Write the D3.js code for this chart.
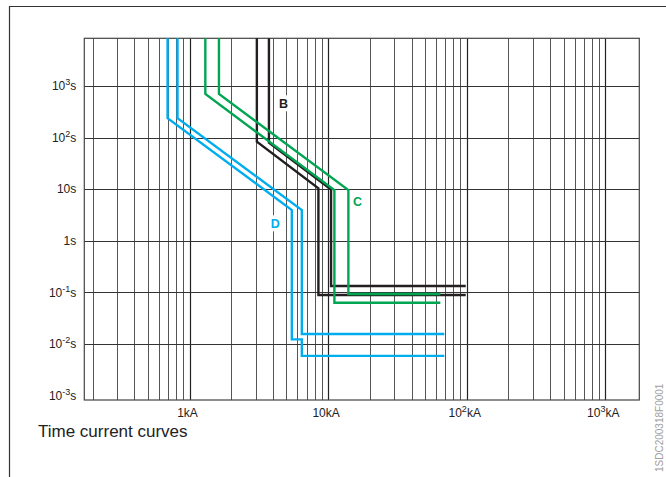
<!DOCTYPE html>
<html>
<head>
<meta charset="utf-8">
<script src="https://cdn.jsdelivr.net/npm/d3@7"></script>
<style>
  body { margin: 0; background: #fff; }
  svg { display: block; font-family: "Liberation Sans", Arial, Helvetica, sans-serif; }
</style>
</head>
<body>
<div id="chart"></div>
<script>
// curves as [current kA, time s]
const curveD1 = [[0.694, 1e4], [0.694, 237], [5.47, 3.95], [5.47, 0.0123], [6.46, 0.0123], [6.46, 0.0059], [68.9, 0.0059]];
const curveD2 = [[0.819, 1e4], [0.819, 237], [6.46, 3.95], [6.46, 0.0156], [68.9, 0.0156]];
const curveC1 = [[1.30, 1e4], [1.30, 700], [11.1, 9.65], [11.1, 0.063], [64.5, 0.063]];
const curveC2 = [[1.63, 1e4], [1.63, 700], [14.0, 9.65], [14.0, 0.093], [64.5, 0.093]];
const curveB1 = [[3.06, 1e4], [3.06, 83.4], [8.51, 10.4], [8.51, 0.089], [98.4, 0.089]];
const curveB2 = [[3.74, 1e4], [3.74, 80], [10.5, 9.9], [10.5, 0.133], [98.4, 0.133]];

const curveLabels = [
  {text: "B", I: 4.76, t: 462, color: "#231f20"},
  {text: "C", I: 16.3, t: 5.7, color: "#00a651"},
  {text: "D", I: 4.15, t: 2.18, color: "#00aeef"}
];

const yTicks = [1e3, 1e2, 10, 1, 1e-1, 1e-2, 1e-3];
const yTickBase = ["10", "10", "10s", "1s", "10", "10", "10"];
const yTickExp = ["3", "2", "", "", "-1", "-2", "-3"];
const xTicks = [1, 10, 100, 1000];
const xTickBase = ["1kA", "10kA", "10", "10"];
const xTickExp = ["", "", "2", "3"];

const W = 666, H = 477;
const plotL = 84.3, plotR = 639.3, plotT = 38.3, plotB = 400;

const svg = d3.select("#chart").append("svg")
  .attr("width", W)
  .attr("height", H);

// outer frame (left and top edges)
svg.append("path")
  .attr("d", `M9.5,${H} V6.5 H${W}`)
  .attr("fill", "none")
  .attr("stroke", "#333")
  .attr("stroke-width", 1.2);

const x = d3.scaleLog().domain([0.174, 1760]).range([plotL, plotR]);
const y = d3.scaleLog().domain([Math.pow(10, -3.085), Math.pow(10, 3.924)]).range([plotB, plotT]);

svg.append("defs").append("clipPath").attr("id", "plot-clip")
  .append("rect")
  .attr("x", plotL).attr("y", plotT)
  .attr("width", plotR - plotL).attr("height", plotB - plotT);

// vertical grid: 1..9 per decade
const vLines = [];
for (let e = -1; e <= 3; e++) {
  for (let m = 1; m <= 9; m++) {
    const v = m * Math.pow(10, e);
    if (v > x.domain()[0] && v < x.domain()[1]) vLines.push({v, major: m === 1});
  }
}
const grid = svg.append("g").attr("class", "grid");
grid.selectAll("line.v")
  .data(vLines)
  .join("line")
    .attr("class", "v")
    .attr("x1", d => Math.round(x(d.v)) + 0.5)
    .attr("x2", d => Math.round(x(d.v)) + 0.5)
    .attr("y1", plotT)
    .attr("y2", plotB)
    .attr("stroke", d => d.major ? "#222" : "#555")
    .attr("stroke-width", d => d.major ? 1.2 : 1);

grid.selectAll("line.h")
  .data(yTicks.filter(t => t > 1.5e-3))
  .join("line")
    .attr("class", "h")
    .attr("x1", plotL)
    .attr("x2", plotR)
    .attr("y1", d => Math.round(y(d)) + 0.5)
    .attr("y2", d => Math.round(y(d)) + 0.5)
    .attr("stroke", "#333")
    .attr("stroke-width", 1);

svg.append("rect")
  .attr("x", plotL).attr("y", plotT)
  .attr("width", plotR - plotL).attr("height", plotB - plotT)
  .attr("fill", "none")
  .attr("stroke", "#444")
  .attr("stroke-width", 1.2);

// curves
const line = d3.line().x(d => x(d[0])).y(d => y(d[1]));
const curves = [
  {data: curveB1, color: "#231f20"},
  {data: curveB2, color: "#231f20"},
  {data: curveC1, color: "#00a651"},
  {data: curveC2, color: "#00a651"},
  {data: curveD1, color: "#00aeef"},
  {data: curveD2, color: "#00aeef"}
];
svg.append("g")
  .attr("clip-path", "url(#plot-clip)")
  .selectAll("path")
  .data(curves)
  .join("path")
    .attr("d", d => line(d.data))
    .attr("fill", "none")
    .attr("stroke", d => d.color)
    .attr("stroke-width", 2.4)
    .attr("stroke-linejoin", "miter");

// curve letters with white backing
const lab = svg.append("g").selectAll("g")
  .data(curveLabels)
  .join("g")
    .attr("transform", d => `translate(${x(d.I)},${y(d.t)})`);
lab.append("rect")
  .attr("x", -6).attr("y", -8)
  .attr("width", 12).attr("height", 16)
  .attr("fill", "#fff");
lab.append("text")
  .attr("text-anchor", "middle")
  .attr("dy", "0.36em")
  .attr("font-size", 12.5)
  .attr("font-weight", "bold")
  .attr("fill", d => d.color)
  .text(d => d.text);

// y axis labels
const yl = svg.append("g").selectAll("text")
  .data(yTicks)
  .join("text")
    .attr("x", plotL - 8)
    .attr("y", d => y(d) + 4.3)
    .attr("text-anchor", "end")
    .attr("font-size", 12)
    .attr("fill", "#222");
yl.append("tspan").text((d, i) => yTickBase[i]);
yl.each(function(d, i) {
  if (!yTickExp[i]) return;
  const t = d3.select(this);
  t.append("tspan").attr("dy", -5).attr("font-size", 9).text(yTickExp[i]);
  t.append("tspan").attr("dy", 5).text("s");
});

// x axis labels
const xl = svg.append("g").selectAll("text")
  .data(xTicks)
  .join("text")
    .attr("x", d => x(d) - 2)
    .attr("y", 417)
    .attr("text-anchor", "middle")
    .attr("font-size", 12)
    .attr("fill", "#222");
xl.append("tspan").text((d, i) => xTickBase[i]);
xl.each(function(d, i) {
  if (!xTickExp[i]) return;
  const t = d3.select(this);
  t.append("tspan").attr("dy", -5).attr("font-size", 9).text(xTickExp[i]);
  t.append("tspan").attr("dy", 5).text("kA");
});

svg.append("text")
  .attr("x", 38)
  .attr("y", 437)
  .attr("font-size", 17)
  .attr("fill", "#222")
  .text("Time current curves");

svg.append("text")
  .attr("transform", "translate(663,472) rotate(-90)")
  .attr("font-size", 10)
  .attr("fill", "#a0a0a0")
  .text("1SDC200318F0001");
</script>
</body>
</html>
